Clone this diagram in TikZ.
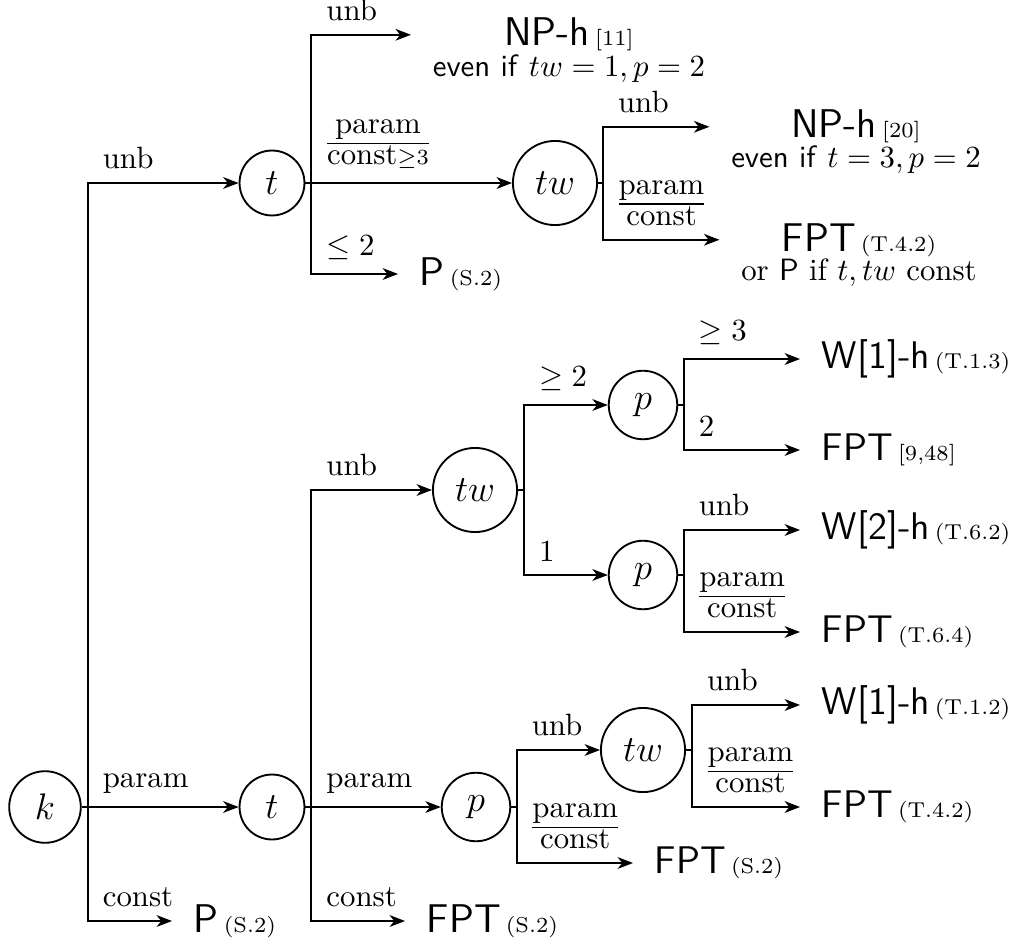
\documentclass[tikz,border=0pt]{standalone}
\usepackage{amsmath}
\usetikzlibrary{arrows.meta}
\newcommand\rref[1]{\hspace{1.6pt}{\rmfamily\scriptsize #1}}
\newcommand\fr[2]{{\def\arraystretch{0.82}\begin{tabular}{@{}c@{}}#1\\\hline #2\end{tabular}}}
\begin{document}
\begin{tikzpicture}[x=0.3245pt,y=-0.3245pt,
  line width=0.6pt,
  arr/.style={-{Stealth[length=5pt,width=3.8pt,inset=1.5pt]}},
  tores/.style={arr, shorten >=6.8pt},
  dec/.style={circle, draw, inner sep=4.5pt, font=\large},
  lab/.style={anchor=south west, inner xsep=4.6pt, inner ysep=4.2pt},
  flab/.style={anchor=south west, inner xsep=4.8pt, inner ysep=1.3pt},
  res/.style={inner sep=0pt, font=\fontsize{12.5}{15}\selectfont\sffamily},
  resL/.style={inner sep=0pt, font=\fontsize{13}{15}\selectfont\sffamily},
  note/.style={inner sep=0pt, anchor=base}]
\useasboundingbox (0,0) rectangle (1033,942);

% decision nodes
\node[dec] (k)   at (45,807)  {$k$};
\node[dec] (t1)  at (272,183) {$t$};
\node[dec] (t2)  at (272,807) {$t$};
\node[dec] (tw1) at (555,183) {$tw$};
\node[dec] (tw2) at (475,490) {$tw$};
\node[dec] (p1)  at (476,807) {$p$};
\node[dec] (p2)  at (643,405) {$p$};
\node[dec] (p3)  at (643,575) {$p$};
\node[dec] (tw3) at (643,750) {$tw$};

% results
\node[resL, anchor=base] (npA) at (569,46) {NP-h\rref{[11]}};
\node[note] (npAn) at (569,77) {\textsf{even if} $tw=1, p=2$};
\node[resL, anchor=west] (rP1) at (419,274) {P\rref{(S.2)}};
\node[resL, anchor=base] (npB) at (856,138) {NP-h\rref{[20]}};
\node[note] (npBn) at (856,168) {\textsf{even if} $t=3, p=2$};
\node[resL, anchor=base] (fptA) at (859,251) {FPT\rref{(T.4.2)}};
\node[note] (fptAn) at (859,281) {or \textsf{P} if $t, tw$ const};
\node[res, anchor=west] (rW1a) at (821,359) {W[1]-h\rref{(T.1.3)}};
\node[res, anchor=west] (rF948) at (821,450) {FPT\rref{[9,48]}};
\node[res, anchor=west] (rW2) at (821,530) {W[2]-h\rref{(T.6.2)}};
\node[res, anchor=west] (rF64) at (821,632) {FPT\rref{(T.6.4)}};
\node[res, anchor=west] (rW1b) at (821,705) {W[1]-h\rref{(T.1.2)}};
\node[res, anchor=west] (rF42b) at (821,807) {FPT\rref{(T.4.2)}};
\node[res, anchor=west] (rFS2) at (654,863) {FPT\rref{(S.2)}};
\node[resL, anchor=west] (rPk) at (193,921) {P\rref{(S.2)}};
\node[resL, anchor=west] (rFt2) at (426,921) {FPT\rref{(S.2)}};

% k
\draw[arr] (k.east) -- ++(6,0) |- node[lab,pos=0.5] {unb} (t1.west);
\draw[arr] (k.east) -- ++(6,0) |- node[lab,pos=0.5] {param} (t2.west);
\draw[tores] (k.east) -- ++(6,0) |- node[lab,pos=0.5] {const} (rPk.west);
% t1
\draw[tores] (t1.east) -- ++(6,0) |- node[lab,pos=0.5] {unb} (npAn.west |- npA.west);
\draw[arr] (t1.east) -- ++(6,0) |- node[flab,pos=0.5,inner ysep=2.6pt] {\fr{param}{const$\scriptstyle\geq 3$}} (tw1.west);
\draw[tores] (t1.east) -- ++(6,0) |- node[lab,pos=0.5] {$\leq 2$} (rP1.west);
% tw1
\draw[tores] (tw1.east) -- ++(5,0) |- node[lab,pos=0.5] {unb} (npBn.west |- npB.west);
\draw[tores] (tw1.east) -- ++(5,0) |- node[flab,pos=0.5] {\fr{param}{const}} (fptAn.west |- fptA.west);
% t2
\draw[arr] (t2.east) -- ++(6,0) |- node[lab,pos=0.5] {unb} (tw2.west);
\draw[arr] (t2.east) -- ++(6,0) |- node[lab,pos=0.5] {param} (p1.west);
\draw[tores] (t2.east) -- ++(6,0) |- node[lab,pos=0.5] {const} (rFt2.west);
% tw2
\draw[arr] (tw2.east) -- ++(6,0) |- node[lab,pos=0.5] {$\geq 2$} (p2.west);
\draw[arr] (tw2.east) -- ++(6,0) |- node[lab,pos=0.5] {$1$} (p3.west);
% p2
\draw[tores] (p2.east) -- ++(5.5,0) |- node[lab,pos=0.5] {$\geq 3$} (rW1a.west);
\draw[tores] (p2.east) -- ++(5.5,0) |- node[lab,pos=0.5] {$2$} (rF948.west);
% p3
\draw[tores] (p3.east) -- ++(5.5,0) |- node[lab,pos=0.5] {unb} (rW2.west);
\draw[tores] (p3.east) -- ++(5.5,0) |- node[flab,pos=0.5] {\fr{param}{const}} (rF64.west);
% p1
\draw[arr] (p1.east) -- ++(5.5,0) |- node[lab,pos=0.5] {unb} (tw3.west);
\draw[tores] (p1.east) -- ++(5.5,0) |- node[flab,pos=0.5] {\fr{param}{const}} (rFS2.west);
% tw3
\draw[tores] (tw3.east) -- ++(6,0) |- node[lab,pos=0.5] {unb} (rW1b.west);
\draw[tores] (tw3.east) -- ++(6,0) |- node[flab,pos=0.5] {\fr{param}{const}} (rF42b.west);
\end{tikzpicture}
\end{document}
